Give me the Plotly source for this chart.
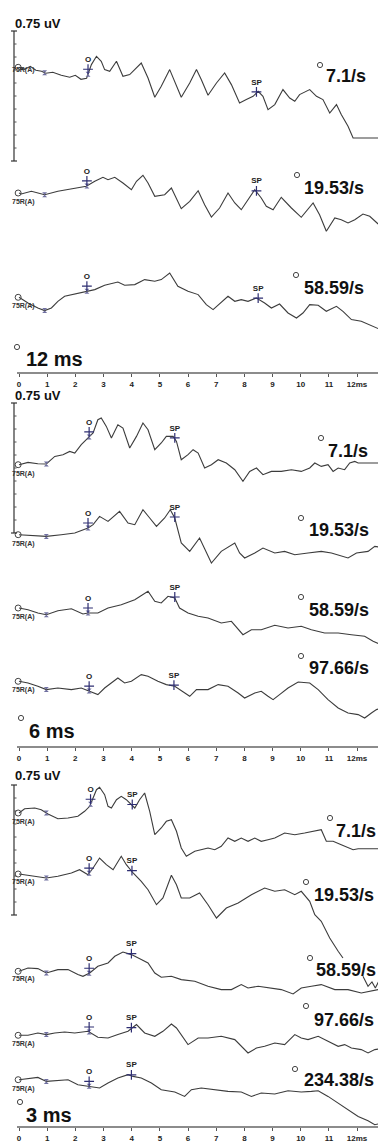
import numpy as np
import plotly.graph_objects as go

# ---------------- DATA (time in ms, amplitude in display units: 130 units = 0.75 uV) ----------------
windows = ["12 ms", "6 ms", "3 ms"]
rates_p1 = ["7.1/s", "19.53/s", "58.59/s"]
rates_p2 = ["7.1/s", "19.53/s", "58.59/s", "97.66/s"]
rates_p3 = ["7.1/s", "19.53/s", "58.59/s", "97.66/s", "234.38/s"]
tick_vals = list(range(13))
tick_text = [str(v) for v in range(12)] + ["12ms"]
scale_label = "0.75 uV"
channel_label = "75R(A)"

# Panel 1 (12 ms window)
p1_r7_t = [0.0, 0.2, 0.4, 0.6, 0.8, 0.95, 1.2, 1.5, 1.8, 2.0, 2.2, 2.4, 2.57, 2.75, 2.92, 3.04, 3.22, 3.46, 3.69, 3.93, 4.34,
           4.58, 4.82, 5.05, 5.35, 5.53, 5.76, 6.06, 6.30, 6.47, 6.71, 7.01, 7.30, 7.54, 7.83, 8.07, 8.31, 8.49, 8.66,
           8.84, 9.08, 9.37, 9.61, 9.79, 9.96, 10.32, 10.56, 10.79, 11.03, 11.27, 11.44, 11.68, 11.86, 12.85]
p1_r7_a = [0, -2, 1, -3, -4, -6, -5, -8, -10, -8, -12, -11, 2.7, 11, 6, -2.3, -4, 6, -9, -7.3, 4.3,
           -10.7, -30, -19, -2.3, -14, -30, -15.7, -2.3, -12.3, -28, -15.7, -5.7, -17.3, -35.7, -32.3, -29, -24, -29,
           -42.3, -37.3, -22.3, -30.7, -34, -27.3, -22.3, -29, -32.3, -45.7, -37.3, -47.3, -59, -70.7, -70.7]

p1_r19_t = [0.0, 0.08, 0.44, 0.91, 1.38, 1.98, 2.39, 2.69, 2.98, 3.16, 3.40, 3.69, 3.99, 4.17, 4.40, 4.58, 4.82, 5.17,
            5.41, 5.76, 6.06, 6.36, 6.59, 6.83, 7.12, 7.42, 7.66, 7.89, 8.37, 8.60, 8.78, 9.02, 9.31, 9.67, 10.02,
            10.44, 10.67, 10.91, 11.21, 11.44, 11.68, 11.92, 12.21, 12.45, 12.75]
p1_r19_a = [0, -1, 1.7, -1.7, 1.7, 5, 6.7, 11.7, 15.7, 13.3, 15.7, 10, 3.3, 11.7, 17.7, 10, -3.3, -1.7,
            5, -15.7, -8.3, 2.3, -11.7, -24, -15, 0, -10, -16.7, 3.3, -5, -13.3, -16.7, -4.3, -15, -24.3,
            -10, -21.7, -38.3, -25, -26.7, -30, -26.7, -21, -23.3, -31]

p1_r58_t = [0.0, 0.32, 0.67, 0.91, 1.15, 1.38, 1.62, 1.98, 2.39, 2.69, 3.04, 3.51, 3.75, 4.11, 4.46, 4.82, 5.05, 5.35,
            5.64, 6.00, 6.36, 6.65, 6.89, 7.12, 7.42, 7.66, 7.89, 8.13, 8.43, 8.72, 8.96, 9.25, 9.55, 9.85, 10.08,
            10.32, 10.62, 10.91, 11.27, 11.50, 11.80, 12.15, 12.45, 12.75]
p1_r58_a = [0, -5.7, -10.7, -13.3, -10.7, -4, 1, 3.3, 6, 7.7, 12, 15.3, 12, 12.7, 17.7, 16, 17.7, 24.3,
            11, 6, 2.7, -7.3, -12.3, -6.7, 1, -4, -2.3, -4, -0.7, -5.7, -10.7, -6.7, -15.7, -20.7, -15.7,
            -7.3, -8, -14, -9, -14, -22.3, -24, -27.3, -31.3]

# Panel 2 (6 ms window)
p2_r7_t = [0.0, 0.32, 0.67, 0.97, 1.27, 1.56, 1.80, 1.98, 2.21, 2.45, 2.63, 2.80, 2.92, 3.10, 3.28, 3.51, 3.69, 3.93,
           4.17, 4.40, 4.58, 4.82, 5.05, 5.23, 5.47, 5.59, 5.76, 6.00, 6.18, 6.36, 6.59, 6.83, 7.07, 7.36, 7.66, 7.95,
           8.19, 8.43, 8.66, 8.96, 9.31, 9.67, 10.02, 10.32, 10.50, 10.73, 10.97, 11.15, 11.33, 11.56, 11.74, 11.92,
           12.04, 12.85]
p2_r7_a = [0, 2.3, 1, 0.7, 8.3, 10, 13.3, 11.7, 20, 26.7, 31.7, 45, 46.7, 38.3, 26.7, 40, 36.7, 16.7,
           28.3, 41.7, 35, 15, 21.7, 28.3, 28.3, 23.3, 5, 10, 15, 11.7, -3.3, 0, 5, 1.7, -5, -16.7,
           -6.7, -3.3, -10, -6.7, -6.7, -5, -6.7, -3.3, 1.7, -1.7, 0, -6.7, -3.3, -5, 1.7, 3.3,
           1.7, 1.7]

p2_r19_t = [0.0, 0.44, 0.97, 1.50, 1.98, 2.45, 2.63, 2.86, 3.16, 3.57, 3.87, 4.11, 4.40, 4.64, 4.88, 5.17, 5.37, 5.53,
            5.76, 6.06, 6.41, 6.83, 7.18, 7.66, 7.83, 8.01, 8.37, 8.66, 9.08, 9.43, 9.79, 10.26, 10.73, 11.09, 11.44,
            11.68, 11.98, 12.39, 12.63, 12.86]
p2_r19_a = [0, -1, -1.7, 0, 1.7, 6.7, 10, 18.3, 13.3, 23.3, 11.7, 10, 25, 16.7, 8.3, 16.7, 25, 16.7,
            -8.3, -16.7, -3.3, -28.3, -16.7, -8.3, -18.3, -23.3, -18.3, -13.3, -18.3, -16.7, -20, -18.3, -16.7,
            -18.3, -21.7, -23.3, -18.3, -16.7, -11.7, -12.7]

p2_r58_t = [0.0, 0.32, 0.67, 0.97, 1.38, 1.86, 2.27, 2.45, 2.80, 3.16, 3.63, 4.11, 4.58, 4.82, 5.05, 5.29, 5.53, 5.70,
            6.00, 6.36, 6.71, 7.18, 7.54, 7.95, 8.25, 8.60, 9.08, 9.55, 10.02, 10.38, 10.85, 11.33, 11.80, 12.27,
            12.57, 12.86]
p2_r58_a = [0, -1.7, -5, -6.7, -2.7, -0.7, -6, -5, -5, 0, 3.3, 8.3, 16.7, 6.7, 5, 11.7, 10, 0,
            -5, -8.3, -10, -15, -13.3, -26.7, -21.7, -21.7, -17.3, -20, -18.3, -21.7, -25, -25, -26.7, -28.3,
            -33.3, -36.7]

p2_r97_t = [0.0, 0.32, 0.67, 0.97, 1.38, 1.86, 2.21, 2.51, 2.80, 3.04, 3.28, 3.51, 3.75, 3.99, 4.34, 4.58, 4.93, 5.23,
            5.53, 5.82, 6.06, 6.30, 6.71, 7.07, 7.42, 7.78, 8.01, 8.37, 8.60, 8.84, 9.02, 9.25, 9.55, 9.91, 10.32,
            10.62, 10.97, 11.33, 11.68, 12.04, 12.27, 12.51, 12.69, 12.90]
p2_r97_a = [0, -1.7, -5, -8.3, -6.7, -8.3, -6.7, -10, -13.3, -6.7, -1.7, 3.3, -1.7, 0, 6.7, 5, 0, -3.3,
            -5, -10, -15, -8.3, -8.3, -3.3, -5, -11.7, -16.7, -11.7, -10, -15, -18.3, -13.3, -6.7, -0.7, -1.7,
            -8.3, -18.3, -26.7, -31.7, -33.3, -36.7, -31.7, -28.3, -26.7]

# Panel 3 (3 ms window)
p3_r7_t = [0.0, 0.20, 0.56, 0.79, 1.03, 1.38, 1.74, 2.09, 2.33, 2.51, 2.63, 2.75, 2.86, 3.04, 3.16, 3.28, 3.46, 3.63,
           3.81, 3.99, 4.11, 4.28, 4.46, 4.64, 4.82, 5.05, 5.23, 5.41, 5.59, 5.76, 5.94, 6.24, 6.47, 6.71, 6.95, 7.18,
           7.42, 7.66, 7.89, 8.13, 8.37, 8.60, 8.84, 9.08, 9.43, 9.79, 10.14, 10.50, 10.73, 10.91, 11.15, 11.44,
           11.68, 11.86, 12.04, 12.85]
p3_r7_a = [0, 4.3, 5, 3.3, -1, -5.7, -5, -3.3, 1.7, 6.7, 15, 23.3, 25.7, 18.3, 6.7, 5, 13.3, 16.7,
           13.3, 8.3, 5, 13.3, 20, 1.7, -21.7, -15, -8.3, -6.7, -18.3, -35, -43.3, -38.3, -36.7, -35, -36.7, -33.3,
           -25, -28.3, -25, -28.3, -25, -28.3, -26.7, -25, -20, -21.7, -20, -18.3, -16.7, -28.3, -28.3, -31.7,
           -35, -36.7, -35.7, -35.7]

p3_r19_t = [0.0, 0.32, 0.67, 0.97, 1.38, 1.86, 2.15, 2.45, 2.63, 2.86, 3.10, 3.34, 3.63, 3.81, 4.05, 4.34, 4.58, 4.88,
            5.11, 5.41, 5.59, 5.76, 6.06, 6.41, 6.71, 7.01, 7.36, 7.78, 8.25, 8.72, 9.08, 9.43, 9.79, 10.02, 10.32,
            10.50, 10.73, 11.03, 11.33, 11.50]
p3_r19_a = [0, -1.3, -2.3, -4, -2.3, 1, 4.3, -0.7, 6, 16, 9.3, 4.3, 17.7, 9.3, 1, -7.3, -15.7, -30.7,
            -24, -1.3, -10.7, -24, -24, -19, -30.7, -44, -34, -29, -20.7, -14, -17.3, -15.7, -20.7, -17.3, -27.3,
            -40.7, -47.3, -64, -77.3, -84]

p3_r58_t = [0.0, 0.32, 0.67, 0.97, 1.38, 1.74, 2.09, 2.27, 2.51, 2.80, 3.16, 3.40, 3.69, 3.99, 4.34, 4.58, 4.82, 5.05,
            5.41, 5.76, 6.24, 6.71, 7.18, 7.54, 7.89, 8.13, 8.49, 8.96, 9.31, 9.73, 10.02, 10.38, 10.73, 11.21, 11.68,
            12.15, 12.51, 12.75, 12.90, None, 12.21, 12.39, 12.53, 12.65, 12.86]
p3_r58_a = [0, 3.3, 2.7, -1.7, 1.7, 1.7, -3.3, -5, -1.7, 5, 8.3, 15, 19.3, 16.7, 11.7, 8.3, -1.7, -6,
            -5, -8.3, -10, -15, -18.3, -18.3, -13.3, -16.7, -15, -16.7, -18.3, -22.7, -16.7, -15, -13.3, -18.3, -18.3,
            -21.7, -20, -18.3, -21.7, None, -5, -15, -10.7, -16.7, -5]

p3_r97_t = [0.0, 0.32, 0.67, 0.97, 1.27, 1.62, 1.98, 2.45, 2.80, 3.16, 3.51, 3.87, 4.17, 4.46, 4.82, 5.11, 5.41, 5.59,
            6.00, 6.36, 6.71, 7.18, 7.66, 8.13, 8.43, 8.72, 9.08, 9.43, 9.79, 10.02, 10.26, 10.62, 10.97, 11.33, 11.56,
            11.80, 12.15, 12.39, 12.63, 12.90]
p3_r97_a = [0, 0, 2.3, 0.7, 2.3, 3.3, 2.3, 4, -2, -2.7, 0.7, 4, 10.7, 2.3, -1, 4, 11.3, 7.3,
            -9.3, -2.7, -2.7, -1, -4.3, -17.7, -12.7, -11, -7.7, -9.3, 0.7, -2.7, -4.3, -1, -6, -11, -9.3,
            -12.7, -14.3, -17.7, -14.3, -13.3]

p3_r234_t = [0.0, 0.32, 0.67, 0.97, 1.38, 1.74, 2.09, 2.51, 2.86, 3.16, 3.51, 3.87, 4.05, 4.34, 4.70, 5.05, 5.53, 5.88,
             6.12, 6.47, 6.95, 7.42, 7.89, 8.25, 8.60, 9.08, 9.55, 10.02, 10.38, 10.62, 10.97, 11.33, 11.68, 12.04,
             12.39, 12.63, 12.90]
p3_r234_a = [0, 1, 2.3, -1.7, -1, 0, -5, -6.7, -8.3, -3.3, 1.7, 5, 3.3, 1.7, -3.3, -10, -12.3, -16.7,
             -10, -8.3, -10, -11.7, -12.3, -16.7, -13.3, -14.3, -11, -12.3, -11.7, -11, -16.7, -23.3, -30, -36.7,
             -41, -45, -43.3]

# Marker latencies (ms): triangle, "O" (onset) and "SP"
tri_p1 = [0.91, 0.91, 0.91]
o_p1 = [2.45, 2.41, 2.41]
sp_p1 = [8.43, 8.43, 8.49]
tri_p2 = [0.97, 0.97, 0.97, 0.97]
o_p2 = [2.49, 2.45, 2.45, 2.49]
sp_p2 = [5.53, 5.53, 5.53, 5.50]
tri_p3 = [0.97, 0.97, 0.97, 0.97, 0.97]
o_p3 = [2.54, 2.49, 2.49, 2.49, 2.49]
sp_p3 = [4.02, 4.01, 3.99, 3.99, 3.99]

# ---------------- LAYOUT CONSTANTS (pixels) ----------------
W, H = 386, 1144
PX_PER_MS = 28.17
X0_PX = 11
XR = [-X0_PX / PX_PER_MS, (W - X0_PX) / PX_PER_MS]
PANEL_TOP = [0, 365, 739]
AXIS_PX = [365, 739, 1119]
BASE_PX = [[59.3, 185, 289.3], [456.7, 526.7, 600, 673.3], [805, 866, 963.3, 1027.3, 1071.7]]
LAB_PX = [[(360, 68), (358, 180), (358, 280)],
          [(362, 443), (363, 522), (363, 602), (363, 660)],
          [(370, 823), (368, 887), (370, 962), (368, 1012), (368, 1072)]]
CIRC_PX = [[(312, 57), (289, 167), (288, 267)],
           [(313, 430), (293, 510), (293, 589), (293, 648)],
           [(322, 810), (298, 874), (302, 950), (298, 998), (287, 1061)]]
CH_DY = [[3, 9, 9], [9, 9, 9, 9], [9, 8, 8, 9, 9]]
WIN_PX = [(16, 351), (19, 723), (16, 1107)]
WIN_CIRC = [(9, 339), (13, 710), (12, 1094)]
SCALE_TOP = [23, 395, 777]
SCALE_LABEL_Y = [15, 387, 767]

LINE_COL = "#3c3c3c"
MARK_COL = "#2e2e72"
FONT = "Arial, Liberation Sans, sans-serif"

panels = [
    (rates_p1, [(p1_r7_t, p1_r7_a), (p1_r19_t, p1_r19_a), (p1_r58_t, p1_r58_a)], tri_p1, o_p1, sp_p1),
    (rates_p2, [(p2_r7_t, p2_r7_a), (p2_r19_t, p2_r19_a), (p2_r58_t, p2_r58_a), (p2_r97_t, p2_r97_a)], tri_p2, o_p2, sp_p2),
    (rates_p3, [(p3_r7_t, p3_r7_a), (p3_r19_t, p3_r19_a), (p3_r58_t, p3_r58_a), (p3_r97_t, p3_r97_a),
                (p3_r234_t, p3_r234_a)], tri_p3, o_p3, sp_p3),
]


def px(x):
    return x / W


def py(y):
    return 1 - y / H


def interp(t, a, tq):
    tt = [v for v in t if v is not None]
    aa = [v for v in a if v is not None]
    n = min(len(tt), len(aa))
    # use the main (first) run only
    tt2, aa2 = [], []
    for v, w in zip(t, a):
        if v is None:
            break
        tt2.append(v)
        aa2.append(w)
    return float(np.interp(tq, tt2, aa2))


fig = go.Figure()
shapes = []
annotations = []

for pi, (rates, series, tris, os_, sps) in enumerate(panels):
    xa = "x" if pi == 0 else f"x{pi + 1}"
    ya = "y" if pi == 0 else f"y{pi + 1}"
    for si, (t, a) in enumerate(series):
        base = -BASE_PX[pi][si]
        yv = [None if v is None else base + v for v in a]
        fig.add_trace(go.Scatter(x=t, y=yv, mode="lines", xaxis=xa, yaxis=ya,
                                 line=dict(color=LINE_COL, width=1.1), hoverinfo="skip", showlegend=False))
        # start circle
        fig.add_trace(go.Scatter(x=[t[0] - 0.03], y=[base], mode="markers", xaxis=xa, yaxis=ya, cliponaxis=False,
                                 marker=dict(symbol="circle-open", size=6, color="#444", line=dict(width=1)),
                                 hoverinfo="skip", showlegend=False))
        # triangle + onset markers
        ytri = base + interp(t, a, tris[si])
        yo = base + interp(t, a, os_[si])
        ysp = base + interp(t, a, sps[si])
        fig.add_trace(go.Scatter(x=[tris[si], os_[si]], y=[ytri, yo], mode="markers", xaxis=xa, yaxis=ya,
                                 marker=dict(symbol="hourglass", size=5, color="#7070a0"),
                                 hoverinfo="skip", showlegend=False))
        fig.add_trace(go.Scatter(x=[os_[si], sps[si]], y=[yo + 5, ysp + 1], mode="markers+text", xaxis=xa, yaxis=ya,
                                 marker=dict(symbol="cross-thin", size=7, color=MARK_COL,
                                             line=dict(color=MARK_COL, width=1.2)),
                                 text=["<b>O</b>", "<b>SP</b>"], textposition="top center",
                                 textfont=dict(family=FONT, size=8, color="#222"),
                                 hoverinfo="skip", showlegend=False))
        # rate label + circle
        lx, ly = LAB_PX[pi][si]
        annotations.append(dict(x=px(lx), y=py(ly), xref="paper", yref="paper", text=f"<b>{rates[si]}</b>",
                                showarrow=False, xanchor="right", yanchor="middle",
                                font=dict(family=FONT, size=18, color="#111")))
        cx, cy = CIRC_PX[pi][si]
        shapes.append(dict(type="circle", xref="paper", yref="paper", x0=px(cx - 2.6), x1=px(cx + 2.6),
                           y0=py(cy + 2.6), y1=py(cy - 2.6), line=dict(color="#444", width=1)))
        # channel label
        annotations.append(dict(x=px(2), y=py(BASE_PX[pi][si] + CH_DY[pi][si]), xref="paper", yref="paper",
                                text=f"<b>{channel_label}</b>", showarrow=False, xanchor="left", yanchor="middle",
                                font=dict(family=FONT, size=7, color="#333")))

    # window label
    wx, wy = WIN_PX[pi]
    annotations.append(dict(x=px(wx), y=py(wy), xref="paper", yref="paper", text=f"<b>{windows[pi]}</b>",
                            showarrow=False, xanchor="left", yanchor="middle",
                            font=dict(family=FONT, size=20, color="#111")))
    cx, cy = WIN_CIRC[pi]
    shapes.append(dict(type="circle", xref="paper", yref="paper", x0=px(cx - 2.6), x1=px(cx + 2.6),
                       y0=py(cy + 2.6), y1=py(cy - 2.6), line=dict(color="#444", width=1)))
    # scale label + bar
    annotations.append(dict(x=px(5), y=py(SCALE_LABEL_Y[pi]), xref="paper", yref="paper", text=f"<b>{scale_label}</b>",
                            showarrow=False, xanchor="left", yanchor="middle",
                            font=dict(family=FONT, size=13, color="#111")))
    top = SCALE_TOP[pi]
    shapes.append(dict(type="line", xref="paper", yref="paper", x0=px(6), x1=px(6), y0=py(top), y1=py(top + 130),
                       line=dict(color="#333", width=1.2)))
    for k in range(11):
        yy = top + 13 * k
        if k in (0, 10):
            shapes.append(dict(type="line", xref="paper", yref="paper", x0=px(3), x1=px(9), y0=py(yy), y1=py(yy),
                               line=dict(color="#333", width=1.2)))
        else:
            shapes.append(dict(type="line", xref="paper", yref="paper", x0=px(6), x1=px(8.5), y0=py(yy), y1=py(yy),
                               line=dict(color="#555", width=1)))
    # time axis line
    shapes.append(dict(type="line", xref="paper", yref="paper", x0=px(9), x1=px(372), y0=py(AXIS_PX[pi]),
                       y1=py(AXIS_PX[pi]), line=dict(color="#666", width=1.3)))

layout = dict(width=W, height=H, margin=dict(l=0, r=0, t=0, b=0), plot_bgcolor="white", paper_bgcolor="white",
              shapes=shapes, annotations=annotations, showlegend=False)
for pi in range(3):
    sx = "" if pi == 0 else str(pi + 1)
    layout[f"xaxis{sx}"] = dict(domain=[0, 1], range=XR, anchor=f"y{sx}", tickvals=tick_vals,
                                ticktext=[f"<b>{s}</b>" for s in tick_text], ticks="outside", ticklen=3,
                                tickcolor="#555", tickwidth=1, showline=False, showgrid=False, zeroline=False,
                                tickfont=dict(family=FONT, size=8, color="#222"), fixedrange=True)
    layout[f"yaxis{sx}"] = dict(domain=[py(AXIS_PX[pi]), py(PANEL_TOP[pi])], range=[-AXIS_PX[pi], -PANEL_TOP[pi]],
                                anchor=f"x{sx}", visible=False, fixedrange=True)
fig.update_layout(**layout)
fig.write_html("out.html")
